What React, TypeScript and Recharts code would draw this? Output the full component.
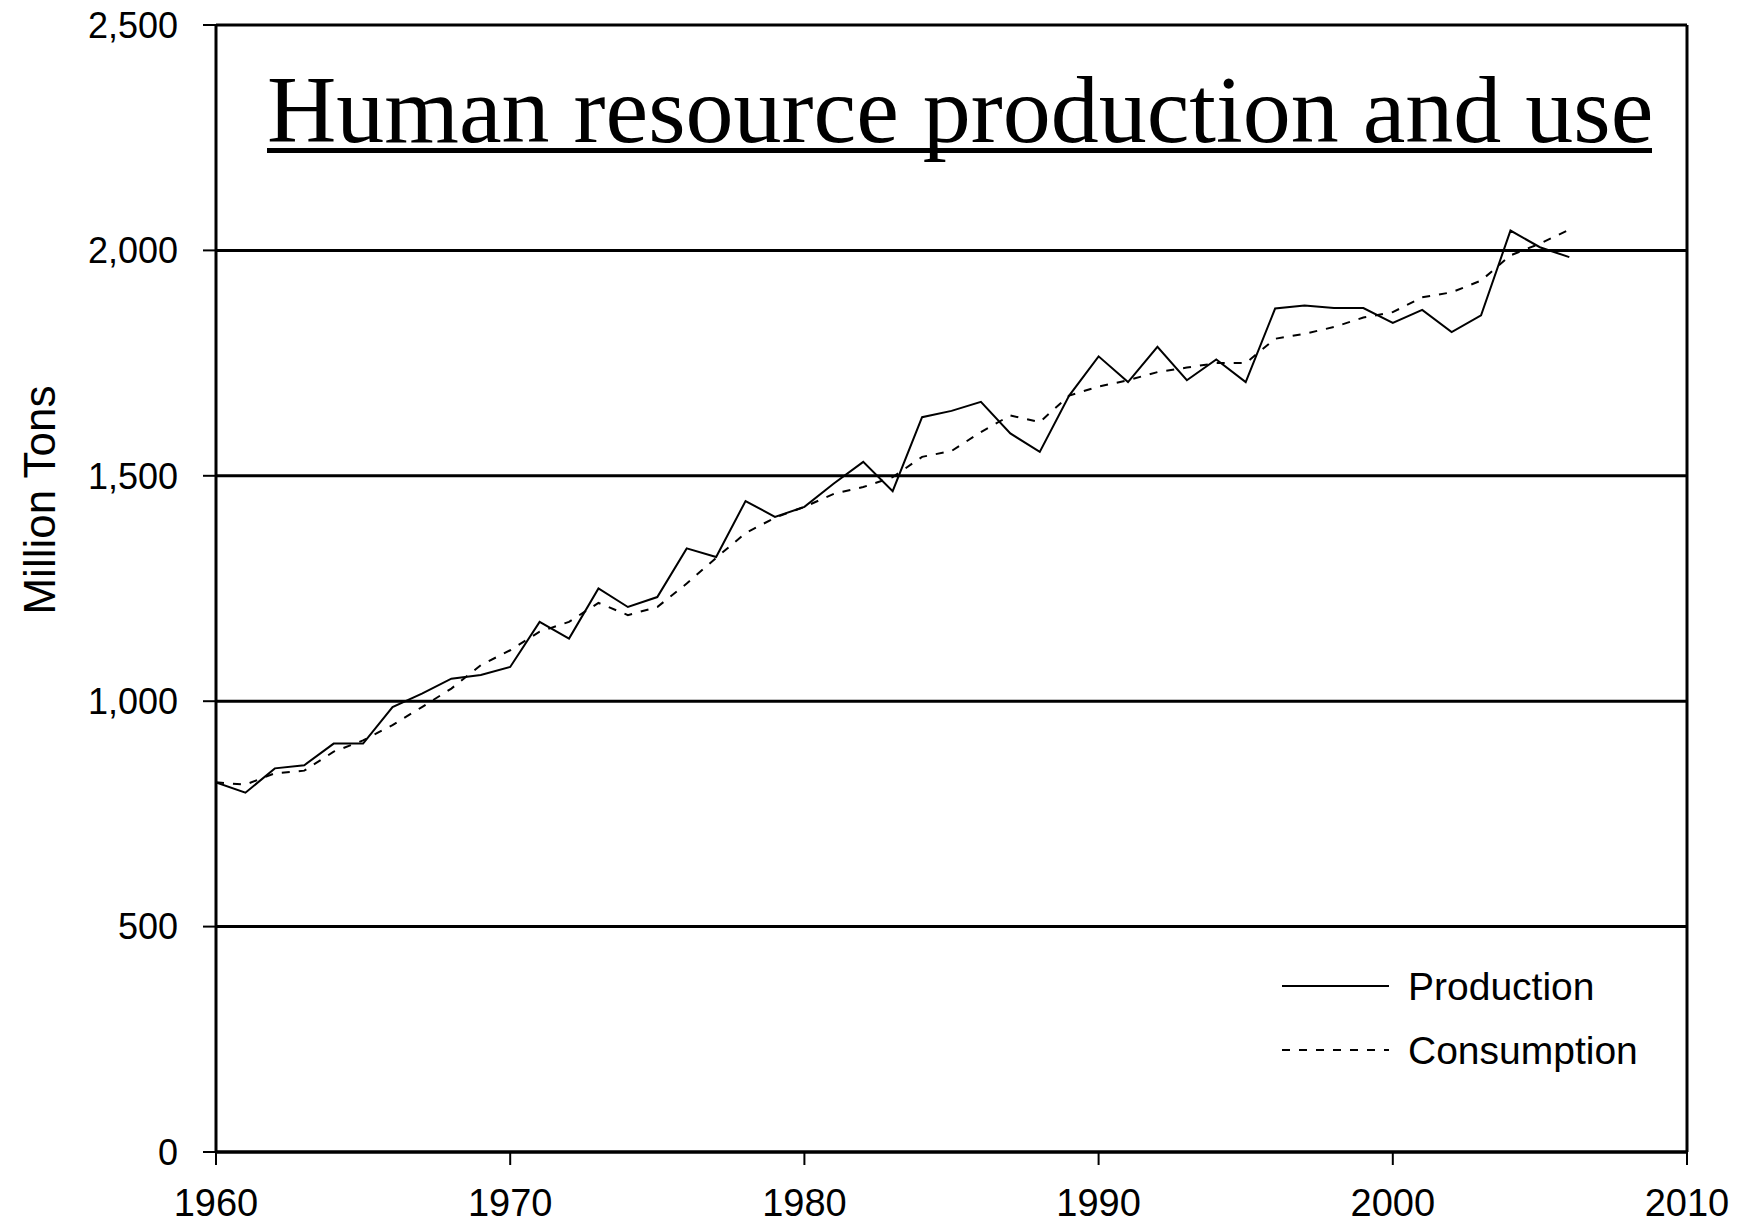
import React from 'react';
import { LineChart, Line, XAxis, YAxis, CartesianGrid, ReferenceLine, Legend } from 'recharts';

// Years on the x axis
const years = [
  1960, 1961, 1962, 1963, 1964, 1965, 1966, 1967, 1968, 1969,
  1970, 1971, 1972, 1973, 1974, 1975, 1976, 1977, 1978, 1979,
  1980, 1981, 1982, 1983, 1984, 1985, 1986, 1987, 1988, 1989,
  1990, 1991, 1992, 1993, 1994, 1995, 1996, 1997, 1998, 1999,
  2000, 2001, 2002, 2003, 2004, 2005, 2006,
];

// Million tons
const production = [
  820, 797, 851, 858, 906, 906, 987, 1017, 1050, 1058,
  1076, 1176, 1139, 1250, 1209, 1231, 1339, 1320, 1444, 1409,
  1431, 1483, 1531, 1466, 1630, 1644, 1664, 1594, 1553, 1678,
  1765, 1708, 1786, 1712, 1758, 1708, 1871, 1878, 1872, 1872,
  1839, 1868, 1819, 1856, 2044, 2007, 1985,
];

const consumption = [
  820, 815, 840, 846, 888, 913, 947, 987, 1028, 1080,
  1113, 1154, 1176, 1218, 1191, 1209, 1261, 1318, 1373, 1407,
  1431, 1460, 1475, 1497, 1542, 1555, 1597, 1634, 1619, 1678,
  1698, 1712, 1730, 1740, 1750, 1750, 1804, 1815, 1830, 1851,
  1863, 1896, 1907, 1933, 1989, 2015, 2046,
];

const yTicks = [0, 500, 1000, 1500, 2000, 2500];
const xTicks = [1960, 1970, 1980, 1990, 2000, 2010];
const seriesNames = ['Production', 'Consumption'];

const data = years.map((year, i) => ({
  year,
  production: production[i],
  consumption: consumption[i],
}));

const SANS = '"Liberation Sans", Arial, sans-serif';
const SERIF = '"Liberation Serif", "Times New Roman", serif';
const DASH = '8 9';

const dashFor: Record<string, string | undefined> = {
  Production: undefined,
  Consumption: DASH,
};

const renderLegend = (props: any) => {
  // keep the reference order: Production on top
  const items = [...(props.payload || [])].sort(
    (a: any, b: any) => seriesNames.indexOf(a.value) - seriesNames.indexOf(b.value)
  );
  return (
    <svg width={420} height={130}>
      {items.map((entry: any, i: number) => {
        const cy = 36 + i * 64;
        return (
          <g key={`leg-${i}`}>
            <line x1={0} x2={107} y1={cy} y2={cy} stroke="#000" strokeWidth={2}
              strokeDasharray={dashFor[entry.value]} />
            <text x={126} y={cy + 14} fontFamily={SANS} fontSize={39} fill="#000">
              {entry.value}
            </text>
          </g>
        );
      })}
    </svg>
  );
};

const App: React.FC = () => {
  return (
    <div style={{ position: 'absolute', left: 0, top: 0, width: 1738, height: 1226, background: '#fff' }}>
      <LineChart
        width={1738}
        height={1226}
        data={data}
        margin={{ top: 25, right: 51, left: 0, bottom: 0 }}
      >
        <CartesianGrid vertical={false} stroke="#000" strokeWidth={3} strokeDasharray="" />
        <XAxis
          dataKey="year"
          type="number"
          domain={[1960, 2010]}
          ticks={xTicks}
          height={74}
          axisLine={{ stroke: '#000', strokeWidth: 3 }}
          tickLine={{ stroke: '#000', strokeWidth: 2 }}
          tickSize={13}
          tickMargin={24}
          tick={{ fill: '#000', fontSize: 38, fontFamily: SANS }}
          allowDataOverflow
        />
        <YAxis
          domain={[0, 2500]}
          ticks={yTicks}
          width={216}
          axisLine={{ stroke: '#000', strokeWidth: 3 }}
          tickLine={{ stroke: '#000', strokeWidth: 2 }}
          tickSize={13}
          tickMargin={25}
          tick={{ fill: '#000', fontSize: 36, fontFamily: SANS }}
          tickFormatter={(v: number) => v.toLocaleString('en-US')}
          allowDataOverflow
        />
        <ReferenceLine x={2010} stroke="#000" strokeWidth={3} />
        <Legend
          layout="vertical"
          align="center"
          verticalAlign="middle"
          content={renderLegend}
          wrapperStyle={{ position: 'absolute', left: 1282, top: 950, width: 420, height: 130 }}
        />
        <Line
          type="linear"
          dataKey="production"
          name="Production"
          stroke="#000"
          strokeWidth={2}
          dot={false}
          isAnimationActive={false}
        />
        <Line
          type="linear"
          dataKey="consumption"
          name="Consumption"
          stroke="#000"
          strokeWidth={2}
          strokeDasharray={DASH}
          dot={false}
          isAnimationActive={false}
        />
      </LineChart>
      <svg
        width={1738}
        height={1226}
        style={{ position: 'absolute', left: 0, top: 0, pointerEvents: 'none' }}
      >
        <text x={267} y={142} fontFamily={SERIF} fontSize={96} fill="#000">
          Human resource production and use
        </text>
        <line x1={267} x2={1652} y1={150.5} y2={150.5} stroke="#000" strokeWidth={5} />
        <text
          x={55}
          y={500}
          transform="rotate(-90 55 500)"
          textAnchor="middle"
          fontFamily={SANS}
          fontSize={44}
          fill="#000"
        >
          Million Tons
        </text>
      </svg>
    </div>
  );
};

export default App;
